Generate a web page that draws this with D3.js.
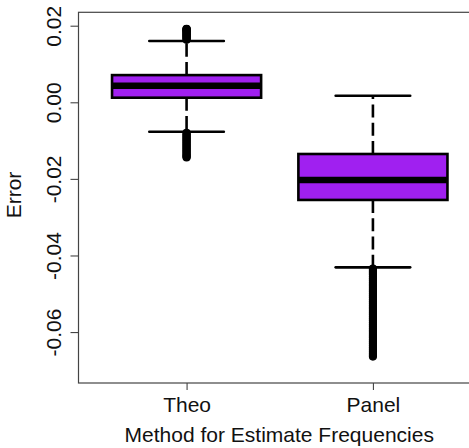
<!DOCTYPE html>
<html>
<head>
<meta charset="utf-8">
<script src="https://cdn.jsdelivr.net/npm/d3@7"></script>
<style>
  html, body { margin: 0; padding: 0; background: #fff; }
  svg { display: block; }
  text { font-family: "Liberation Sans", Arial, Helvetica, sans-serif; fill: #111; }
</style>
</head>
<body>
<svg id="chart" width="469" height="448"></svg>
<script>
// ---- data ----
const categories = ["Theo", "Panel"];
const lowerWhisker = [-0.0077, -0.0431];
const q1 = [0.0012, -0.0255];
const medians = [0.0043, -0.0203];
const q3 = [0.0071, -0.0135];
const upperWhisker = [0.0160, 0.0017];
const outliersTheo = [
  0.0163, 0.0165, 0.0167, 0.0170, 0.0172, 0.0174, 0.0176, 0.0178, 0.0180,
  0.0182, 0.0184, 0.0186, 0.0188, 0.0189, 0.0190, 0.0191, 0.0192,
  -0.0080, -0.0083, -0.0086, -0.0089, -0.0092, -0.0095, -0.0098, -0.0101,
  -0.0104, -0.0107, -0.0110, -0.0113, -0.0116, -0.0119, -0.0122, -0.0125,
  -0.0128, -0.0131, -0.0134, -0.0137, -0.0140, -0.0142, -0.0144
];
const outliersPanel = [
  -0.0434, -0.0438, -0.0442, -0.0446, -0.0450, -0.0455, -0.0460, -0.0465,
  -0.0470, -0.0475, -0.0480, -0.0485, -0.0490, -0.0495, -0.0500, -0.0505,
  -0.0510, -0.0515, -0.0520, -0.0525, -0.0530, -0.0535, -0.0540, -0.0545,
  -0.0550, -0.0555, -0.0560, -0.0565, -0.0570, -0.0575, -0.0580, -0.0585,
  -0.0590, -0.0595, -0.0600, -0.0605, -0.0610, -0.0615, -0.0620, -0.0625,
  -0.0630, -0.0635, -0.0640, -0.0645, -0.0650, -0.0655, -0.0660, -0.0664
];
const outliers = [outliersTheo, outliersPanel];
const yTicks = [-0.06, -0.04, -0.02, 0.00, 0.02];
const yTickLabels = ["-0.06", "-0.04", "-0.02", "0.00", "0.02"];
const xTitle = "Method for Estimate Frequencies";
const yTitle = "Error";

// ---- layout ----
const plotLeft = 78.5, plotRight = 481, plotTop = 12.3, plotBottom = 383;
const svg = d3.select("#chart");

const x = d3.scaleLinear().domain([0.42, 2.58]).range([plotLeft, plotRight]);
const y = d3.scaleLinear().domain([-0.0733, 0.0235]).range([plotBottom, plotTop]);
const boxHalf = (x(2) - x(1)) * 0.4;
const capHalf = boxHalf / 2;
const fillColor = "#A020F0";

const g = svg.append("g");

categories.forEach((c, i) => {
  const cx = x(i + 1);
  // whiskers (dashed)
  g.append("line")
    .attr("x1", cx).attr("x2", cx)
    .attr("y1", y(q1[i])).attr("y2", y(lowerWhisker[i]))
    .attr("stroke", "#000").attr("stroke-width", 2.6)
    .attr("stroke-dasharray", "13,5.3");
  g.append("line")
    .attr("x1", cx).attr("x2", cx)
    .attr("y1", y(q3[i])).attr("y2", y(upperWhisker[i]))
    .attr("stroke", "#000").attr("stroke-width", 2.6)
    .attr("stroke-dasharray", "13,5.3");
  // caps
  [lowerWhisker[i], upperWhisker[i]].forEach(v => {
    g.append("line")
      .attr("x1", cx - capHalf).attr("x2", cx + capHalf)
      .attr("y1", y(v)).attr("y2", y(v))
      .attr("stroke", "#000").attr("stroke-width", 2.6)
      .attr("stroke-linecap", "round");
  });
  // box
  g.append("rect")
    .attr("x", cx - boxHalf).attr("width", 2 * boxHalf)
    .attr("y", y(q3[i])).attr("height", y(q1[i]) - y(q3[i]))
    .attr("fill", fillColor).attr("stroke", "#000").attr("stroke-width", 2.6);
  // median
  g.append("line")
    .attr("x1", cx - boxHalf).attr("x2", cx + boxHalf)
    .attr("y1", y(medians[i])).attr("y2", y(medians[i]))
    .attr("stroke", "#000").attr("stroke-width", 6.5);
  // outliers
  g.selectAll(null).data(outliers[i]).enter().append("circle")
    .attr("cx", cx).attr("cy", d => y(d)).attr("r", 3.4)
    .attr("fill", "#000").attr("stroke", "#000").attr("stroke-width", 1.4);
});

// plot frame
svg.append("rect")
  .attr("x", plotLeft).attr("y", plotTop)
  .attr("width", plotRight - plotLeft).attr("height", plotBottom - plotTop)
  .attr("fill", "none").attr("stroke", "#444").attr("stroke-width", 1.2);

// y axis
const yAxis = d3.axisLeft(y).tickValues(yTicks).tickSize(8).tickFormat((d, i) => yTickLabels[i]);
const ya = svg.append("g").attr("transform", `translate(${plotLeft},0)`).call(yAxis);
ya.select(".domain").remove();
ya.selectAll(".tick line").attr("stroke", "#444").attr("stroke-width", 1.1);
ya.selectAll(".tick text")
  .attr("transform", "rotate(-90)")
  .attr("x", 0).attr("dx", null).attr("dy", null)
  .attr("y", -17.5)
  .attr("text-anchor", "middle")
  .style("font-size", "21px").style("font-family", "'Liberation Sans', Arial, sans-serif")
  .attr("fill", "#111");

// x axis
const xAxis = d3.axisBottom(x).tickValues([1, 2]).tickSize(7).tickFormat((d, i) => categories[i]);
const xa = svg.append("g").attr("transform", `translate(0,${plotBottom})`).call(xAxis);
xa.select(".domain").remove();
xa.selectAll(".tick line").attr("stroke", "#444").attr("stroke-width", 1.1);
xa.selectAll(".tick text")
  .attr("y", 28.7).attr("dy", null)
  .style("font-size", "21px").style("font-family", "'Liberation Sans', Arial, sans-serif")
  .attr("fill", "#111");

// titles
svg.append("text")
  .attr("x", (plotLeft + 460) / 2 + 10).attr("y", 441.7)
  .attr("text-anchor", "middle")
  .style("font-size", "21px")
  .text(xTitle);
svg.append("text")
  .attr("transform", `translate(21,195) rotate(-90)`)
  .attr("text-anchor", "middle")
  .style("font-size", "21px")
  .text(yTitle);
</script>
</body>
</html>
